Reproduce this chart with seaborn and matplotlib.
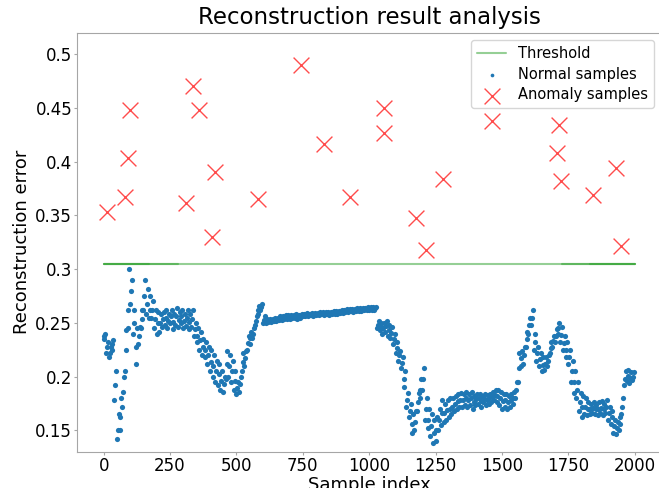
import numpy as np
import pandas as pd
import seaborn as sns
import matplotlib
matplotlib.use("Agg")
import matplotlib.pyplot as plt

# threshold value of the reconstruction error
threshold = 0.305

# normal samples, every 10 samples:
# lower edge, centre and upper edge of the band of points
normal_low = [
    0.235, 0.222, 0.218, 0.225, 0.178, 0.142, 0.150, 0.172, 0.205, 0.245,
    0.268, 0.240, 0.212, 0.230, 0.245, 0.262, 0.258, 0.255, 0.255, 0.245,
    0.240, 0.242, 0.246, 0.248, 0.245, 0.250, 0.244, 0.248, 0.246, 0.250,
    0.245, 0.247, 0.244, 0.246, 0.238, 0.232, 0.225, 0.220, 0.218, 0.212,
    0.205, 0.200, 0.195, 0.192, 0.188, 0.186, 0.198, 0.200, 0.195, 0.188,
    0.184, 0.186, 0.205, 0.210, 0.225, 0.230, 0.236, 0.248, 0.258, 0.262,
    0.250, 0.250, 0.251, 0.251, 0.252, 0.252, 0.253, 0.253, 0.254, 0.254,
    0.254, 0.255, 0.255, 0.254, 0.255, 0.256, 0.256, 0.256, 0.257, 0.256,
    0.257, 0.257, 0.258, 0.257, 0.258, 0.257, 0.258, 0.258, 0.258, 0.259,
    0.259, 0.260, 0.260, 0.261, 0.260, 0.261, 0.261, 0.261, 0.262, 0.262,
    0.262, 0.262, 0.262, 0.245, 0.243, 0.240, 0.242, 0.238, 0.236, 0.230,
    0.222, 0.215, 0.208, 0.190, 0.172, 0.162, 0.148, 0.150, 0.168, 0.180,
    0.188, 0.160, 0.152, 0.145, 0.138, 0.140, 0.150, 0.155, 0.158, 0.160,
    0.162, 0.165, 0.168, 0.170, 0.172, 0.172, 0.174, 0.172, 0.174, 0.170,
    0.174, 0.175, 0.172, 0.176, 0.174, 0.175, 0.176, 0.178, 0.176, 0.174,
    0.170, 0.172, 0.170, 0.172, 0.175, 0.180, 0.195, 0.210, 0.212, 0.228,
    0.240, 0.248, 0.225, 0.215, 0.210, 0.205, 0.206, 0.210, 0.222, 0.228,
    0.232, 0.240, 0.232, 0.225, 0.218, 0.212, 0.195, 0.185, 0.180, 0.168,
    0.162, 0.165, 0.164, 0.165, 0.166, 0.165, 0.164, 0.166, 0.164, 0.166,
    0.160, 0.156, 0.148, 0.147, 0.150, 0.165, 0.192, 0.196, 0.194, 0.197,
]
normal_mid = [
    0.238, 0.228, 0.222, 0.230, 0.192, 0.150, 0.162, 0.186, 0.225, 0.262,
    0.280, 0.250, 0.228, 0.238, 0.254, 0.275, 0.268, 0.262, 0.262, 0.254,
    0.250, 0.250, 0.254, 0.255, 0.252, 0.256, 0.251, 0.256, 0.253, 0.256,
    0.252, 0.255, 0.251, 0.254, 0.244, 0.238, 0.234, 0.228, 0.225, 0.220,
    0.214, 0.210, 0.205, 0.202, 0.196, 0.193, 0.212, 0.210, 0.205, 0.196,
    0.189, 0.193, 0.214, 0.217, 0.231, 0.236, 0.240, 0.252, 0.262, 0.265,
    0.253, 0.252, 0.252, 0.253, 0.253, 0.254, 0.254, 0.255, 0.255, 0.255,
    0.256, 0.256, 0.256, 0.256, 0.256, 0.257, 0.257, 0.257, 0.258, 0.258,
    0.258, 0.258, 0.259, 0.259, 0.259, 0.259, 0.260, 0.260, 0.260, 0.260,
    0.261, 0.261, 0.262, 0.262, 0.262, 0.262, 0.263, 0.263, 0.263, 0.263,
    0.264, 0.264, 0.264, 0.248, 0.246, 0.245, 0.247, 0.243, 0.241, 0.235,
    0.227, 0.220, 0.213, 0.198, 0.178, 0.168, 0.156, 0.158, 0.176, 0.188,
    0.198, 0.170, 0.160, 0.154, 0.148, 0.150, 0.160, 0.166, 0.166, 0.169,
    0.170, 0.172, 0.175, 0.177, 0.178, 0.178, 0.180, 0.178, 0.180, 0.176,
    0.179, 0.180, 0.177, 0.180, 0.178, 0.180, 0.181, 0.183, 0.182, 0.180,
    0.177, 0.178, 0.176, 0.178, 0.180, 0.188, 0.208, 0.217, 0.220, 0.235,
    0.248, 0.255, 0.232, 0.222, 0.216, 0.211, 0.212, 0.215, 0.227, 0.233,
    0.238, 0.245, 0.239, 0.231, 0.225, 0.218, 0.205, 0.195, 0.188, 0.176,
    0.172, 0.172, 0.170, 0.170, 0.171, 0.170, 0.170, 0.171, 0.170, 0.172,
    0.166, 0.162, 0.154, 0.152, 0.156, 0.172, 0.198, 0.201, 0.199, 0.200,
]
normal_high = [
    0.240, 0.232, 0.228, 0.234, 0.205, 0.165, 0.180, 0.200, 0.243, 0.300,
    0.290, 0.262, 0.245, 0.246, 0.262, 0.290, 0.282, 0.275, 0.270, 0.262,
    0.260, 0.258, 0.260, 0.262, 0.258, 0.262, 0.258, 0.264, 0.260, 0.262,
    0.258, 0.262, 0.258, 0.262, 0.250, 0.245, 0.242, 0.235, 0.232, 0.228,
    0.225, 0.220, 0.215, 0.212, 0.205, 0.200, 0.224, 0.220, 0.215, 0.205,
    0.195, 0.200, 0.222, 0.224, 0.238, 0.242, 0.245, 0.256, 0.266, 0.268,
    0.256, 0.254, 0.254, 0.254, 0.255, 0.255, 0.256, 0.256, 0.257, 0.257,
    0.257, 0.257, 0.258, 0.257, 0.258, 0.258, 0.259, 0.258, 0.259, 0.259,
    0.259, 0.260, 0.260, 0.260, 0.260, 0.260, 0.261, 0.261, 0.261, 0.262,
    0.262, 0.263, 0.263, 0.263, 0.263, 0.264, 0.264, 0.264, 0.264, 0.265,
    0.265, 0.265, 0.265, 0.252, 0.250, 0.250, 0.252, 0.248, 0.246, 0.240,
    0.232, 0.224, 0.218, 0.205, 0.185, 0.175, 0.165, 0.168, 0.185, 0.198,
    0.208, 0.180, 0.170, 0.165, 0.160, 0.162, 0.170, 0.178, 0.175, 0.178,
    0.180, 0.180, 0.182, 0.184, 0.185, 0.184, 0.186, 0.184, 0.186, 0.182,
    0.184, 0.184, 0.182, 0.184, 0.183, 0.184, 0.186, 0.188, 0.188, 0.186,
    0.184, 0.184, 0.182, 0.184, 0.186, 0.195, 0.222, 0.224, 0.228, 0.242,
    0.255, 0.262, 0.240, 0.228, 0.222, 0.218, 0.218, 0.220, 0.232, 0.238,
    0.244, 0.250, 0.246, 0.238, 0.232, 0.225, 0.215, 0.205, 0.195, 0.185,
    0.182, 0.180, 0.176, 0.175, 0.176, 0.174, 0.176, 0.177, 0.175, 0.178,
    0.172, 0.168, 0.160, 0.158, 0.162, 0.180, 0.205, 0.206, 0.204, 0.204,
]

# anomaly samples (index, error)
anomaly_idx = [14, 80, 93, 98, 312, 336, 358, 409, 418, 581, 744, 828, 926,
               1056, 1056, 1177, 1214, 1278, 1462, 1707, 1714, 1722, 1842, 1929, 1947]
anomaly_err = [0.353, 0.367, 0.403, 0.448, 0.362, 0.470, 0.448, 0.330, 0.390, 0.365,
               0.490, 0.416, 0.367, 0.450, 0.427, 0.348, 0.318, 0.384, 0.438, 0.408,
               0.434, 0.382, 0.369, 0.394, 0.322]

# sample indices of the read values
idx = np.arange(0, 2000, 10)
normal = pd.DataFrame({
    "index": np.concatenate([idx, idx + 3, idx + 6]),
    "error": normal_low + normal_mid + normal_high,
})
anomaly = pd.DataFrame({"index": anomaly_idx, "error": anomaly_err})

sns.set_style("ticks")
plt.rcParams["axes.edgecolor"] = "#a6a6a6"
plt.rcParams["xtick.color"] = "#a6a6a6"
plt.rcParams["ytick.color"] = "#a6a6a6"
plt.rcParams["xtick.labelcolor"] = "black"
plt.rcParams["ytick.labelcolor"] = "black"
plt.rcParams["text.color"] = "black"
plt.rcParams["axes.labelcolor"] = "black"
plt.rcParams["font.family"] = ["DejaVu Sans"]

fig = plt.figure(figsize=(6.59, 4.88), dpi=100)
ax = fig.add_axes([0.117, 0.074, 0.886, 0.859])

sns.lineplot(x=[0, 2000], y=[threshold, threshold], color="tab:green", alpha=0.5,
             linewidth=1.5, label="Threshold", ax=ax)
# the threshold line is darker near both ends in the original
for x0, x1 in [(0, 280), (1725, 2000), (0, 170), (1830, 2000)]:
    ax.plot([x0, x1], [threshold, threshold], color="tab:green", alpha=0.5, linewidth=1.5)

sns.scatterplot(data=normal, x="index", y="error", color="tab:blue", s=14,
                linewidth=0, label="Normal samples", ax=ax)
sns.scatterplot(data=anomaly, x="index", y="error", color="red", marker="x", s=130,
                linewidth=1, alpha=0.7, label="Anomaly samples", ax=ax)

ax.set_xlim(-100, 2099)
ax.set_ylim(0.13, 0.52)
ax.set_xticks([0, 250, 500, 750, 1000, 1250, 1500, 1750, 2000])
ax.set_yticks([0.15, 0.2, 0.25, 0.3, 0.35, 0.4, 0.45, 0.5])
ax.set_yticklabels(["0.15", "0.2", "0.25", "0.3", "0.35", "0.4", "0.45", "0.5"])
ax.tick_params(labelsize=12, length=2, pad=1.5)
ax.set_xlabel("Sample index", fontsize=13, labelpad=1)
ax.set_ylabel("Reconstruction error", fontsize=13, labelpad=3)
ax.set_title("Reconstruction result analysis", fontsize=16.5)
leg = ax.legend(loc="upper right", fontsize=10.5, labelspacing=0.4)
leg.legend_handles[1].set_sizes([7])

fig.savefig("out.png", dpi=100)
